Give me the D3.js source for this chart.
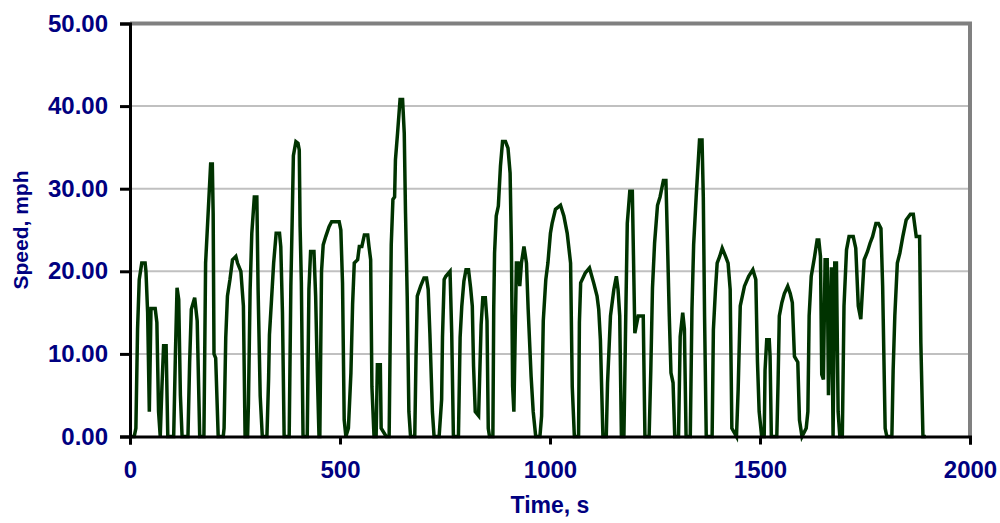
<!DOCTYPE html>
<html>
<head>
<meta charset="utf-8">
<script src="https://cdn.jsdelivr.net/npm/d3@7"></script>
<style>
  body { margin: 0; background: #fff; }
  svg { display: block; }
  .lbl { font-family: "Liberation Sans", Arial, sans-serif; font-weight: bold; fill: #000080; }
</style>
</head>
<body>
<svg id="chart" width="1000" height="523"></svg>
<script>
// speed trace
const timeS = [0,10,14,18,22,28,36,38,42,46,50,60,64,68,72,76,80,86,90,104,108,112,116,120,124,138,142,146,154,160,166,176,180,186,192,196,198,200,204,210,222,224,228,232,238,244,252,256,264,270,274,280,282,286,290,296,302,305,310,315,326,330,332,337,342,348,356,359,363,367,379,383,386,389,395,400,403,405,408,412,422,426,430,438,442,446,450,452,456,460,466,474,480,498,502,506,510,514,520,526,530,534,542,546,552,558,566,569,573,576,581,586,589,596,598,610,617,620,622,626,630,632,637,643,649,653,656,660,664,668,678,681,684,692,700,706,710,714,720,724,736,742,744,748,752,762,766,770,782,786,790,795,800,806,811,815,818,822,830,836,840,846,850,853,856,864,866,868,872,877,882,887,894,900,905,908,911,914,920,924,928,932,938,944,948,955,960,966,976,980,984,990,995,1001,1005,1013,1025,1033,1041,1049,1053,1058,1068,1070,1073,1084,1094,1104,1112,1116,1120,1126,1134,1137,1144,1152,1158,1162,1166,1170,1176,1180,1184,1190,1196,1202,1210,1222,1226,1236,1240,1244,1249,1256,1262,1270,1276,1279,1284,1288,1293,1297,1306,1310,1316,1320,1324,1334,1338,1342,1348,1356,1362,1365,1368,1372,1386,1389,1394,1398,1404,1410,1418,1424,1429,1433,1444,1448,1453,1463,1473,1483,1490,1494,1498,1504,1510,1512,1516,1522,1524,1527,1540,1543,1546,1552,1558,1566,1572,1577,1582,1590,1594,1600,1610,1614,1617,1622,1630,1636,1640,1644,1647,1651,1655,1660,1663,1666,1670,1674,1678,1682,1686,1690,1696,1700,1706,1712,1722,1728,1734,1740,1748,1756,1762,1768,1776,1782,1788,1792,1798,1802,1814,1817,1821,1827,1833,1840,1848,1858,1865,1872,1880,1883,1888,1895];
const speedMph = [0,0,1,13,19,21,21,20,15,3,15.5,15.5,13.8,3,0,6,11,11,0,0,9.7,18,16.6,5,0,0,9,15.4,16.8,14,0,0,21,27,33,33,27,10,9.5,0,0,1,12,17,19,21.4,21.8,21,20,15.8,0,0,4,17.8,24.6,29,29,17.8,4.9,0,0,7,12.3,16.6,21,24.6,24.6,23,15,0,0,18.2,25.8,34,35.7,35.5,34.7,25.4,18.6,0,0,17.8,22.4,22.4,17,7.7,0,0,20,23.2,24.2,25.4,26,26,25,18.6,2,0,1,7.7,16,21,21.4,23,23,24.4,24.4,23,21.4,6,0,0,8.7,8.7,1,0,0,14.2,23.2,28.7,29,33.5,36.7,40.8,40.8,36.7,27,17,3,0,0,9.7,17,18.2,19.2,19.2,17.8,12.5,3,0,0,4.5,12,19,19.4,20,12.5,0,0,12,15.8,18.8,20.2,20.2,18,15.8,8.5,3,2.5,13.5,16.8,16.8,14,1,0,0,15.4,22.2,26.7,27.9,32.7,35.7,35.7,34.9,31.9,23.4,6.1,3,21,21,18.2,21,23,21,15.4,7.3,3,0,0,2.5,14,19,21,24.6,25.8,27.5,28,26.7,24.6,21,6,0,0,13.8,18.6,19.8,20.4,18.6,17,15.4,11.7,0,0,6.5,14.6,17.8,19.4,17.8,14.6,0,0,13.3,25.8,29.7,29.7,12.5,14.6,14.6,0,0,8,18,23.4,28,29,31,31,25,14.6,7.7,6.5,0,0,12.1,15,13,0,0,15.4,23.2,29,35.9,35.9,29,14.6,0,0,12.9,17.8,21,21.8,22.8,21.8,21,17.8,1,0,5.7,15.8,18.2,19.4,20.2,19,9,3,0,0,8,11.7,11.7,9.7,0,0,6.5,14.6,16.2,17.3,18.2,17.3,16.2,9.7,9,2,0,1,3,14.6,19.4,21.8,23.8,23.8,21.8,7.5,6.9,21.4,21.4,5,12,20.5,0,21,21,3,0,0,15.8,22.6,24.2,24.2,22.8,15.8,14.2,21.4,22.4,23.4,24.2,25.8,25.8,25.2,18.2,1,0,0,8,14.6,21,22.2,24.2,26.2,26.9,26.9,24.2,24.2,11.3,0,0];

const yTicks = [0, 10, 20, 30, 40, 50];
const xTicks = [0, 500, 1000, 1500, 2000];
const xTitle = "Time, s";
const yTitle = "Speed, mph";

const plotL = 130, plotR = 970, plotT = 23.5, plotB = 436.5;

const svg = d3.select("#chart");

const x = d3.scaleLinear().domain([0, 2000]).range([plotL, plotR]);
const y = d3.scaleLinear().domain([0, 50]).range([plotB, plotT]);

// gridlines
svg.append("g")
  .selectAll("line")
  .data(yTicks.filter(d => d > 0 && d < 50))
  .enter().append("line")
    .attr("x1", plotL).attr("x2", plotR)
    .attr("y1", d => y(d)).attr("y2", d => y(d))
    .attr("stroke", "#c0c0c0")
    .attr("stroke-width", 2);

// top and right frame
svg.append("path")
  .attr("d", `M${plotL},${plotT}H${plotR}V${plotB}`)
  .attr("fill", "none")
  .attr("stroke", "#808080")
  .attr("stroke-width", 4);

// the trace
const pts = timeS.map((t, i) => [t, speedMph[i]]);
svg.append("path")
  .datum(pts)
  .attr("fill", "none")
  .attr("stroke", "#003300")
  .attr("stroke-width", 3.5)
  .attr("stroke-linejoin", "miter")
  .attr("d", d3.line().x(d => x(d[0])).y(d => y(d[1])));

// axes
const yAxis = svg.append("g")
  .attr("transform", `translate(${plotL},0)`)
  .call(d3.axisLeft(y).tickValues(yTicks).tickSize(10).tickPadding(12).tickFormat(d3.format(".2f")));
const xAxis = svg.append("g")
  .attr("transform", `translate(0,${plotB})`)
  .call(d3.axisBottom(x).tickValues(xTicks).tickSize(8).tickPadding(16).tickFormat(d3.format("d")));

[yAxis, xAxis].forEach(a => {
  a.select(".domain").attr("stroke", "#000").attr("stroke-width", 3);
  a.selectAll(".tick line").attr("stroke", "#000").attr("stroke-width", 3);
  a.selectAll(".tick text").attr("class", "lbl").style("font-size", "24px");
});

svg.append("text")
  .attr("class", "lbl")
  .attr("x", (plotL + plotR) / 2)
  .attr("y", 513)
  .attr("text-anchor", "middle")
  .style("font-size", "23px")
  .text(xTitle);

svg.append("text")
  .attr("class", "lbl")
  .attr("transform", `translate(28,${(plotT + plotB) / 2}) rotate(-90)`)
  .attr("text-anchor", "middle")
  .style("font-size", "21px")
  .text(yTitle);
</script>
</body>
</html>
